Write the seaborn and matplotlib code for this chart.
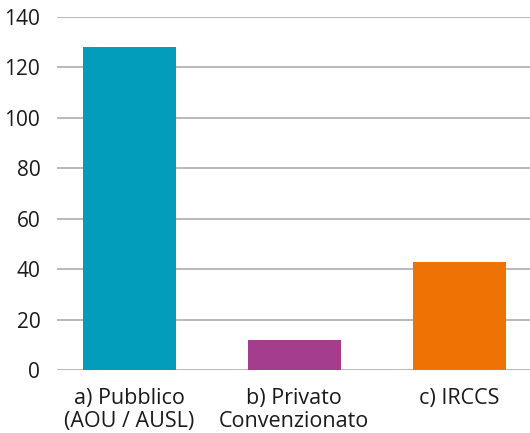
import matplotlib
matplotlib.use("Agg")
import matplotlib.pyplot as plt
import seaborn as sns
import pandas as pd

categories = ["a) Pubblico\n(AOU / AUSL)", "b) Privato\nConvenzionato", "c) IRCCS"]
values = [128, 12, 43]
colors = ["#029DBA", "#A53D8D", "#EE7204"]
yticks = [0, 20, 40, 60, 80, 100, 120, 140]

sns.set_style("white")
plt.rcParams["font.family"] = ["Open Sans", "DejaVu Sans"]

df = pd.DataFrame({"cat": categories, "val": values})

fig = plt.figure(figsize=(5.30, 4.33), dpi=100)
ax = fig.add_axes([0.1075, 0.1455, 0.8925, 0.8152])

ax.yaxis.grid(True, color="#b3b3b3", linewidth=1.3)
ax.set_axisbelow(True)
sns.barplot(data=df, x="cat", y="val", hue="cat", palette=colors,
            width=0.565, saturation=1, legend=False, ax=ax, zorder=3,
            linewidth=0)

ax.set_xlim(-0.44, 2.43)
ax.set_ylim(0, 140)
ax.set_yticks(yticks)
ax.set_yticklabels([str(t) for t in yticks])
ax.set_xlabel("")
ax.set_ylabel("")
for s in ax.spines.values():
    s.set_visible(False)
ax.tick_params(axis="y", length=0, pad=12, labelsize=15, labelcolor="#1a1a1a")
ax.tick_params(axis="x", length=0, pad=13, labelsize=15.5, labelcolor="#1a1a1a")
for lbl in ax.get_xticklabels():
    lbl.set_linespacing(1.1)

fig.savefig("out.png", dpi=100)
